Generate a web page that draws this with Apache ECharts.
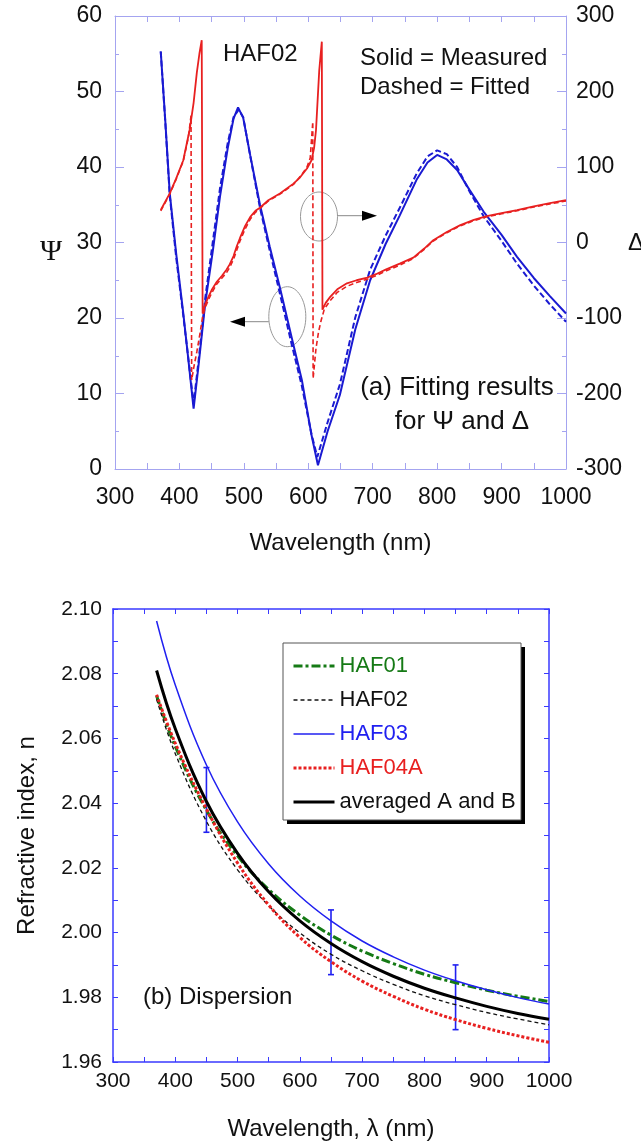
<!DOCTYPE html>
<html><head><meta charset="utf-8">
<script src="https://cdn.jsdelivr.net/npm/echarts@6/dist/echarts.min.js"></script>
<style>html,body{margin:0;padding:0;background:#fff}#c{width:641px;height:1143px}</style>
</head><body><div id="c"></div><script>
// ---------- (a) Psi / Delta data ----------
const psiWl = [371,378,385,395,406,414,422,430,440,452,463,475,484,491,499,510,525,540,556,574,590,605,615,630,649,673,696,720,742,768,785,800,815,831,850,872,900,924,950,975,1000];
const psiMeasured = [55.3,46.2,36.5,28.5,20.6,14.4,8.0,14.0,21.9,29.0,36.1,42.5,46.4,47.9,46.5,41.5,35.0,29.5,24.0,17.5,11.8,4.5,0.5,5.0,9.8,18.5,25.0,29.8,33.6,38.3,40.6,41.6,41.0,39.6,37.0,34.1,31.0,28.1,25.3,22.9,20.6];
const psiFitWl = [371,378,385,395,406,414,422,430,440,452,463,475,484,492,499,510,525,540,556,574,590,605,614,630,649,673,696,720,742,768,785,800,815,831,850,872,900,924,950,975,1000];
const psiFitted = [55.3,46.0,36.2,28.0,20.3,14.5,8.6,14.6,22.6,30.2,37.2,43.2,46.6,47.6,46.6,41.4,34.6,29.0,23.2,16.6,11.0,4.6,1.6,6.2,11.2,20.1,26.4,30.9,34.6,39.1,41.4,42.2,41.7,40.0,36.8,33.5,30.2,27.2,24.3,21.8,19.5];
const deltaWl = [371,385,395,406,416,422,427,431,434.6,436,440,445,450,458,466,473,478,484,489,494,502,510,518,525,538,556,577,587,598,605,609,612,617,621,622,627,634,645,660,675,690,705,720,742,763,780,794,815,836,857,877,900,924,950,975,1000];
const deltaMeasured = [43,65,85,109,150,185,225,250,268,-94,-82,-72,-63,-52,-44,-36,-29,-18,-5,6,22,34,42,46,56,65,78,86,98,109,125,149,228,266,-89,-80,-72,-62,-54,-50,-47,-42,-36,-28,-20,-8,3,14,23,30,35,39,43,48,52,56];
const deltaFitWl = [371,385,395,406,414,418,419,423,427,432,436,440,445,450,458,466,473,478,484,489,494,502,510,518,525,538,556,577,590,598,603,607,607.5,612,616,620,625,634,645,660,675,690,705,720,742,763,780,794,815,836,857,877,900,924,950,975,1000];
const deltaFitted = [42,64,84,108,140,168,-182,-162,-145,-120,-98,-86,-76,-67,-55,-47,-40,-33,-22,-10,2,18,31,40,45,55,64,77,90,100,112,160,-180,-140,-118,-103,-88,-77,-66,-58,-53,-49,-44,-38,-30,-21,-9,2,13,22,29,34,38,42,47,51,55];

// ---------- (b) dispersion data ----------
const nWl = [370,400,450,500,550,600,650,700,750,800,850,900,950,1000];
const nHAF01 = [2.0732,2.0575,2.0378,2.0237,2.0133,2.0054,1.9992,1.9943,1.9904,1.9871,1.9845,1.9822,1.9803,1.9787];
const nHAF02 = [2.0721,2.0553,2.0344,2.0194,2.0083,1.9999,1.9933,1.9882,1.9840,1.9805,1.9777,1.9753,1.9733,1.9715];
const nHAF03 = [2.0963,2.0765,2.0518,2.0342,2.0212,2.0113,2.0036,1.9974,1.9925,1.9884,1.9851,1.9823,1.9799,1.9779];
const nHAF04A = [2.0735,2.0585,2.0382,2.0215,2.0085,1.9985,1.9910,1.9850,1.9803,1.9763,1.9731,1.9704,1.9681,1.9661];
const nAvg = [2.0810,2.0630,2.0405,2.0245,2.0126,2.0036,1.9966,1.9910,1.9865,1.9828,1.9798,1.9772,1.9750,1.9732];
const errWl = [450,650,850];
const errCenter = [2.041,1.997,1.980];
const errHalf = [0.010,0.010,0.010];

const FONT = "'Liberation Sans', Arial, sans-serif";
const zip = (xs, ys) => xs.map((x, i) => [x, ys[i]]);
const TOPC = '#a4a4f0', BOTC = '#3a3aff';
const BLUE = '#1a1ad2', RED = '#e82020', GREEN = '#157a15', BBLUE = '#2020f0';

function axis(o) {
  const c = o.color;
  return Object.assign({
    type: 'value', gridIndex: o.grid, position: o.pos, min: o.min, max: o.max, interval: o.interval,
    splitLine: { show: false }, minorSplitLine: { show: false },
    axisLine: { show: true, onZero: false, lineStyle: { color: c, width: o.lw || 1 } },
    axisTick: { show: true, inside: true, length: o.tick, lineStyle: { color: c, width: 1 } },
    minorTick: { show: true, splitNumber: 2, length: o.minor, lineStyle: { color: c, width: 1 } },
    axisLabel: o.label ? Object.assign({ show: true, color: '#111', fontFamily: FONT, showMinLabel: true, showMaxLabel: true, formatter: v => String(v) }, o.label) : { show: false }
  }, o.extra || {});
}

const chart = echarts.init(document.getElementById('c'), null, { renderer: 'canvas' });
const lineS = (name, xi, yi, data, color, width, type, smooth) => ({
  name, type: 'line', xAxisIndex: xi, yAxisIndex: yi, data, symbol: 'none', showSymbol: false,
  smooth: smooth || false, animation: false, silent: true,
  lineStyle: { color, width, type: type || 'solid' }, itemStyle: { color }
});

chart.setOption({
  animation: false,
  backgroundColor: '#fff',
  textStyle: { fontFamily: FONT },
  grid: [
    { left: 115, top: 16, width: 451, height: 453, containLabel: false, outerBoundsMode: 'none' },
    { left: 113, top: 609, width: 436, height: 453, containLabel: false, outerBoundsMode: 'none' }
  ],
  xAxis: [
    axis({ grid: 0, pos: 'bottom', min: 300, max: 1000, interval: 100, color: TOPC, tick: 6, minor: 6,
      label: { fontSize: 23, margin: 17 },
      extra: { name: 'Wavelength (nm)', nameLocation: 'middle', nameGap: 62, nameTextStyle: { fontSize: 24, color: '#111', fontFamily: FONT } } }),
    axis({ grid: 0, pos: 'top', min: 300, max: 1000, interval: 100, color: TOPC, tick: 6, minor: 6 }),
    axis({ grid: 1, pos: 'bottom', min: 300, max: 1000, interval: 100, color: BOTC, tick: 5, minor: 5, lw: 1.5,
      label: { fontSize: 21, margin: 9 },
      extra: { name: 'Wavelength, λ (nm)', nameLocation: 'middle', nameGap: 55, nameTextStyle: { fontSize: 24, color: '#111', fontFamily: FONT } } }),
    axis({ grid: 1, pos: 'top', min: 300, max: 1000, interval: 100, color: BOTC, tick: 5, minor: 5, lw: 1.5 })
  ],
  yAxis: [
    axis({ grid: 0, pos: 'left', min: 0, max: 60, interval: 10, color: TOPC, tick: 9, minor: 4,
      label: { fontSize: 23, margin: 13 } }),
    axis({ grid: 0, pos: 'right', min: -300, max: 300, interval: 100, color: TOPC, tick: 9, minor: 4,
      label: { fontSize: 23, margin: 10 } }),
    axis({ grid: 1, pos: 'left', min: 1.96, max: 2.10, interval: 0.02, color: BOTC, tick: 5, minor: 5, lw: 1.5,
      label: { fontSize: 21, margin: 11, formatter: v => v.toFixed(2) },
      extra: { name: 'Refractive index, n', nameLocation: 'middle', nameGap: 74, nameRotate: 90, nameTextStyle: { fontSize: 24, color: '#111', fontFamily: FONT } } }),
    axis({ grid: 1, pos: 'right', min: 1.96, max: 2.10, interval: 0.02, color: BOTC, tick: 5, minor: 5, lw: 1.5 })
  ],
  legend: {
    orient: 'vertical', left: 283, top: 645, z: 10,
    itemWidth: 41, itemHeight: 12, itemGap: 12, padding: [10, 9, 8, 9],
    itemStyle: { opacity: 0, borderWidth: 0 },
    selectedMode: false,
    textStyle: { fontSize: 22, fontFamily: FONT, lineHeight: 22 },
    data: [
      { name: 'HAF01', textStyle: { color: GREEN }, lineStyle: { width: 3 } },
      { name: 'HAF02', textStyle: { color: '#111' }, lineStyle: { width: 1.3 } },
      { name: 'HAF03', textStyle: { color: BBLUE }, lineStyle: { width: 1.5 } },
      { name: 'HAF04A', textStyle: { color: RED }, lineStyle: { width: 3 } },
      { name: 'averaged A and B', textStyle: { color: '#111' }, lineStyle: { width: 3 } }
    ]
  },
  series: [
    lineS('Ψ measured', 0, 0, zip(psiWl, psiMeasured), BLUE, 2),
    lineS('Ψ fitted', 0, 0, zip(psiFitWl, psiFitted), BLUE, 2, [6, 3]),
    lineS('Δ measured', 0, 1, zip(deltaWl, deltaMeasured), RED, 1.8),
    lineS('Δ fitted', 0, 1, zip(deltaFitWl, deltaFitted), RED, 1.6, [5, 3]),
    lineS('HAF01', 2, 2, zip(nWl, nHAF01), GREEN, 3, [9, 3, 3, 3], 0.4),
    lineS('HAF02', 2, 2, zip(nWl, nHAF02), '#111', 1.3, [4, 3], 0.4),
    lineS('HAF03', 2, 2, zip(nWl, nHAF03), BBLUE, 1.5, 'solid', 0.4),
    lineS('HAF04A', 2, 2, zip(nWl, nHAF04A), RED, 3, [3, 2], 0.4),
    lineS('averaged A and B', 2, 2, zip(nWl, nAvg), '#000', 3, 'solid', 0.4),
    {
      name: 'error', type: 'custom', xAxisIndex: 2, yAxisIndex: 2, silent: true, animation: false,
      data: errWl.map((x, i) => [x, errCenter[i], errHalf[i]]),
      encode: { x: 0, y: 1 },
      renderItem: (params, api) => {
        const x = api.value(0), c = api.value(1), h = api.value(2);
        const t = api.coord([x, c + h]), b = api.coord([x, c - h]);
        const st = { stroke: BBLUE, lineWidth: 1.6 };
        return { type: 'group', children: [
          { type: 'line', shape: { x1: t[0], y1: t[1], x2: b[0], y2: b[1] }, style: st },
          { type: 'line', shape: { x1: t[0] - 3, y1: t[1], x2: t[0] + 3, y2: t[1] }, style: st },
          { type: 'line', shape: { x1: b[0] - 3, y1: b[1], x2: b[0] + 3, y2: b[1] }, style: st }
        ] };
      }
    }
  ],
  graphic: { elements: [
    { type: 'rect', z: 5, shape: { x: 287, y: 647, width: 238, height: 177 }, style: { fill: '#000' } },
    { type: 'rect', z: 6, shape: { x: 283, y: 643, width: 238, height: 177 }, style: { fill: '#fff', stroke: '#555', lineWidth: 1 } },
    { type: 'text', x: 51, y: 252, style: { text: 'Ψ', font: "30px 'Liberation Serif', serif", fill: '#111', align: 'center', verticalAlign: 'middle' } },
    { type: 'text', x: 636, y: 243, style: { text: 'Δ', font: "24px " + FONT, fill: '#111', align: 'center', verticalAlign: 'middle' } },
    { type: 'text', x: 223, y: 54, style: { text: 'HAF02', font: "24px " + FONT, fill: '#111', align: 'left', verticalAlign: 'middle' } },
    { type: 'text', x: 360, y: 58, style: { text: 'Solid = Measured', font: "24px " + FONT, fill: '#111', align: 'left', verticalAlign: 'middle' } },
    { type: 'text', x: 360, y: 87, style: { text: 'Dashed = Fitted', font: "24px " + FONT, fill: '#111', align: 'left', verticalAlign: 'middle' } },
    { type: 'text', x: 457, y: 388, style: { text: '(a) Fitting results', font: "26px " + FONT, fill: '#111', align: 'center', verticalAlign: 'middle' } },
    { type: 'text', x: 462, y: 422, style: { text: 'for Ψ and Δ', font: "26px " + FONT, fill: '#111', align: 'center', verticalAlign: 'middle' } },
    { type: 'text', x: 143, y: 997, style: { text: '(b) Dispersion', font: "24px " + FONT, fill: '#111', align: 'left', verticalAlign: 'middle' } },
    { type: 'ellipse', shape: { cx: 319, cy: 216.5, rx: 18.5, ry: 24.5 }, style: { fill: null, stroke: '#999', lineWidth: 1 } },
    { type: 'line', shape: { x1: 337.5, y1: 215.7, x2: 363, y2: 215.7 }, style: { stroke: '#888', lineWidth: 1 } },
    { type: 'polygon', shape: { points: [[362, 210.7], [377, 215.7], [362, 220.7]] }, style: { fill: '#000' } },
    { type: 'ellipse', shape: { cx: 287.3, cy: 316.7, rx: 18.5, ry: 30 }, style: { fill: null, stroke: '#999', lineWidth: 1 } },
    { type: 'line', shape: { x1: 268.8, y1: 321.7, x2: 244, y2: 321.7 }, style: { stroke: '#888', lineWidth: 1 } },
    { type: 'polygon', shape: { points: [[245, 316.7], [230, 321.7], [245, 326.7]] }, style: { fill: '#000' } }
  ] }
});
</script></body></html>
